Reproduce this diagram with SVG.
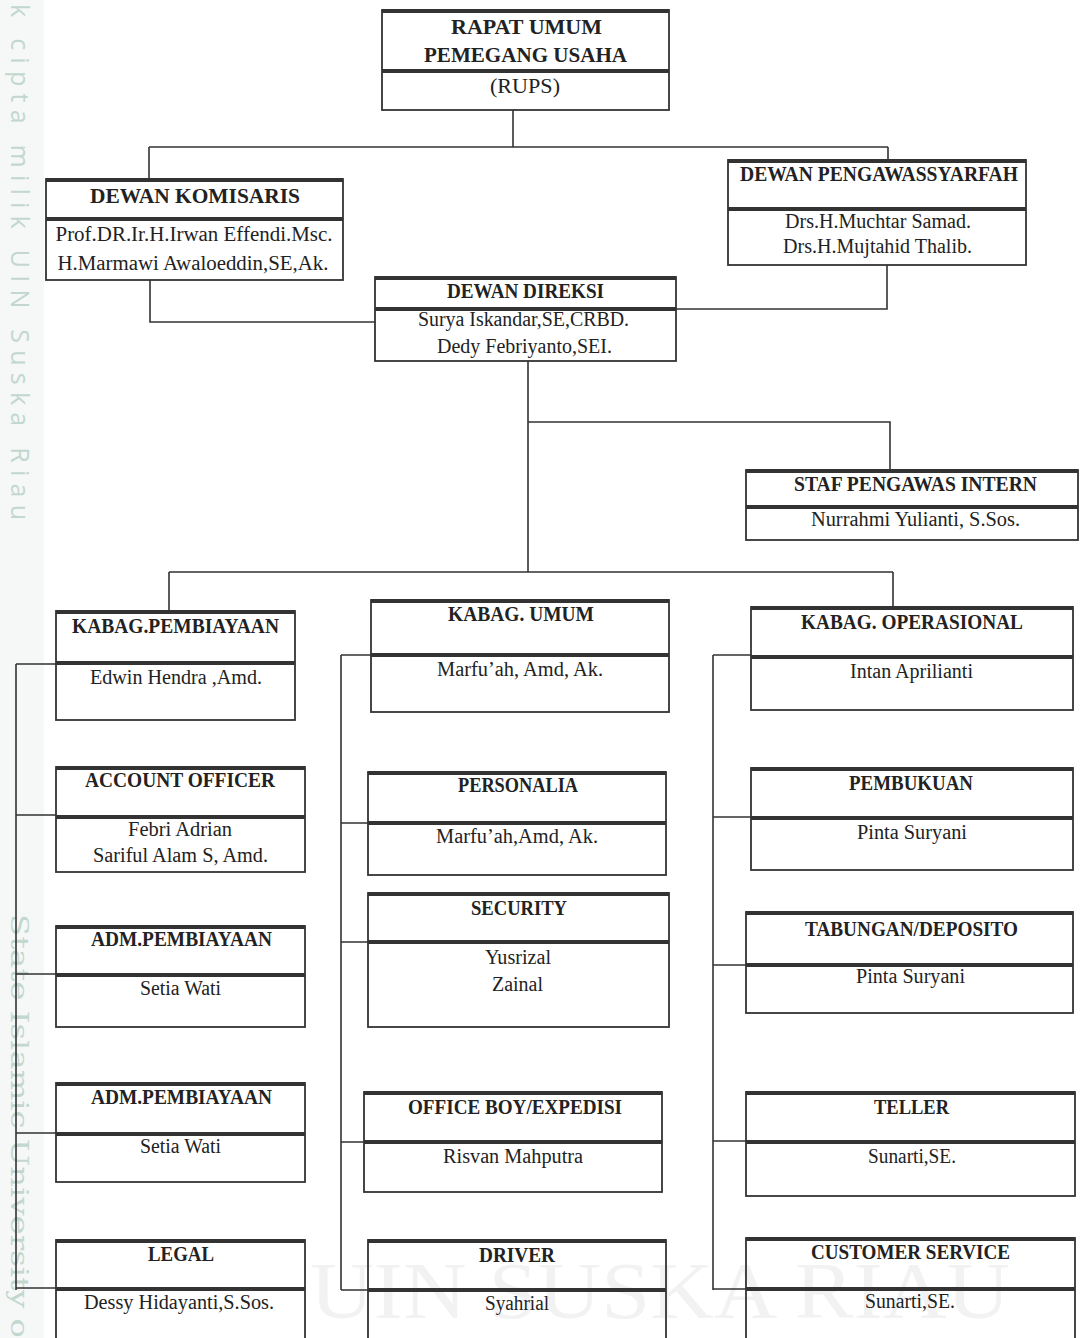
<svg xmlns="http://www.w3.org/2000/svg" width="1080" height="1338" viewBox="0 0 1080 1338">
<style>
.box{fill:none;stroke:#333;stroke-width:1.8}
.bar{stroke:#333;stroke-width:4}
.t{font-family:"Liberation Serif","Times New Roman",serif;font-weight:bold;font-size:22px;text-anchor:middle;fill:#222}
.n{font-family:"Liberation Serif","Times New Roman",serif;font-size:20px;text-anchor:middle;fill:#222}
.c{fill:none;stroke:#333;stroke-width:1.6}
.wm{fill:#c2d8ce}
</style>
<rect width="1080" height="1338" fill="#fff"/>
<g id="watermark">
<rect x="0" y="0" width="44" height="1338" fill="#f6f7f7"/>
<text class="wm" transform="translate(11,4) rotate(90)" font-family="'Open Sans','Noto Sans',sans-serif" font-size="25" textLength="516" lengthAdjust="spacing">k cipta milik UIN Suska Riau</text>
<text class="wm" transform="translate(11,914) rotate(90)" font-family="'DejaVu Serif',serif" font-size="25" textLength="424" lengthAdjust="spacingAndGlyphs">State Islamic University o</text>
<text x="660" y="1318" font-family="'Liberation Serif',serif" font-size="80" text-anchor="middle" fill="#f2f2f2" textLength="700" lengthAdjust="spacingAndGlyphs">UIN SUSKA RIAU</text>
</g>
<g id="connectors">
<path class="c" d="M513 110V147M149 147H888M149 147V179M888 147V160"/>
<path class="c" d="M150 280V322H375"/>
<path class="c" d="M887 265V309H676"/>
<path class="c" d="M528 361V572M528 422H890V470"/>
<path class="c" d="M169 572H893M169 572V611M893 572V607"/>
<path class="c" d="M16 664V1290M16 664H56M16 815H56M16 974H56M16 1133H56M16 1288H56"/>
<path class="c" d="M341 655V1290M341 655H371M341 823H368M341 942H368M341 1142H364M341 1290H368"/>
<path class="c" d="M713 655V1290M713 655H751M713 817H751M713 965H746M713 1141H746M713 1289H746"/>
</g>
<g id="rups">
<rect class="box" x="382" y="10" width="287" height="100"/>
<path class="bar" d="M382 11H669M382 71H669"/>
<text class="t" x="526.5" y="34" textLength="151" lengthAdjust="spacingAndGlyphs">RAPAT UMUM</text>
<text class="t" x="525.5" y="62" textLength="203" lengthAdjust="spacingAndGlyphs">PEMEGANG USAHA</text>
<text class="n" x="525" y="93" textLength="70" lengthAdjust="spacingAndGlyphs">(RUPS)</text>
</g>
<g id="dewan-komisaris">
<rect class="box" x="46" y="179" width="297" height="101"/>
<path class="bar" d="M46 180H343M46 219H343"/>
<text class="t" x="195" y="203" textLength="210" lengthAdjust="spacingAndGlyphs">DEWAN KOMISARIS</text>
<text class="n" x="194" y="241" textLength="277" lengthAdjust="spacingAndGlyphs">Prof.DR.Ir.H.Irwan Effendi.Msc.</text>
<text class="n" x="193" y="270" textLength="271" lengthAdjust="spacingAndGlyphs">H.Marmawi Awaloeddin,SE,Ak.</text>
</g>
<g id="dewan-pengawas-syariah">
<rect class="box" x="728" y="160" width="298" height="105"/>
<path class="bar" d="M728 161H1026M728 209H1026"/>
<text class="t" x="879" y="181" textLength="278" lengthAdjust="spacingAndGlyphs">DEWAN PENGAWASSYARFAH</text>
<text class="n" x="878" y="228" textLength="186" lengthAdjust="spacingAndGlyphs">Drs.H.Muchtar Samad.</text>
<text class="n" x="877.5" y="253" textLength="189" lengthAdjust="spacingAndGlyphs">Drs.H.Mujtahid Thalib.</text>
</g>
<g id="dewan-direksi">
<rect class="box" x="375" y="277" width="301" height="84"/>
<path class="bar" d="M375 278H676M375 309H676"/>
<text class="t" x="525.5" y="298" textLength="157" lengthAdjust="spacingAndGlyphs">DEWAN DIREKSI</text>
<text class="n" x="523.5" y="326" textLength="211" lengthAdjust="spacingAndGlyphs">Surya Iskandar,SE,CRBD.</text>
<text class="n" x="524.5" y="353" textLength="175" lengthAdjust="spacingAndGlyphs">Dedy Febriyanto,SEI.</text>
</g>
<g id="staf-pengawas-intern">
<rect class="box" x="746" y="470" width="332" height="70"/>
<path class="bar" d="M746 471H1078M746 507H1078"/>
<text class="t" x="915.5" y="491" textLength="243" lengthAdjust="spacingAndGlyphs">STAF PENGAWAS INTERN</text>
<text class="n" x="915.5" y="526" textLength="209" lengthAdjust="spacingAndGlyphs">Nurrahmi Yulianti, S.Sos.</text>
</g>
<g id="kabag-pembiayaan">
<rect class="box" x="56" y="611" width="239" height="109"/>
<path class="bar" d="M56 612H295M56 663H295"/>
<text class="t" x="175.5" y="633" textLength="207" lengthAdjust="spacingAndGlyphs">KABAG.PEMBIAYAAN</text>
<text class="n" x="176" y="684" textLength="172" lengthAdjust="spacingAndGlyphs">Edwin Hendra ,Amd.</text>
</g>
<g id="account-officer">
<rect class="box" x="56" y="767" width="249" height="105"/>
<path class="bar" d="M56 768H305M56 817H305"/>
<text class="t" x="180" y="787" textLength="190" lengthAdjust="spacingAndGlyphs">ACCOUNT OFFICER</text>
<text class="n" x="180" y="836" textLength="104" lengthAdjust="spacingAndGlyphs">Febri Adrian</text>
<text class="n" x="180.5" y="862" textLength="175" lengthAdjust="spacingAndGlyphs">Sariful Alam S, Amd.</text>
</g>
<g id="adm-pembiayaan-1">
<rect class="box" x="56" y="926" width="249" height="101"/>
<path class="bar" d="M56 927H305M56 975H305"/>
<text class="t" x="181.5" y="946" textLength="181" lengthAdjust="spacingAndGlyphs">ADM.PEMBIAYAAN</text>
<text class="n" x="180.5" y="995" textLength="81" lengthAdjust="spacingAndGlyphs">Setia Wati</text>
</g>
<g id="adm-pembiayaan-2">
<rect class="box" x="56" y="1083" width="249" height="99"/>
<path class="bar" d="M56 1084H305M56 1134H305"/>
<text class="t" x="181.5" y="1104" textLength="181" lengthAdjust="spacingAndGlyphs">ADM.PEMBIAYAAN</text>
<text class="n" x="180.5" y="1153" textLength="81" lengthAdjust="spacingAndGlyphs">Setia Wati</text>
</g>
<g id="legal">
<rect class="box" x="56" y="1240" width="249" height="110"/>
<path class="bar" d="M56 1241H305M56 1289H305"/>
<text class="t" x="181" y="1261" textLength="66" lengthAdjust="spacingAndGlyphs">LEGAL</text>
<text class="n" x="179" y="1309" textLength="190" lengthAdjust="spacingAndGlyphs">Dessy Hidayanti,S.Sos.</text>
</g>
<g id="kabag-umum">
<rect class="box" x="371" y="600" width="298" height="112"/>
<path class="bar" d="M371 601H669M371 655H669"/>
<text class="t" x="521" y="621" textLength="146" lengthAdjust="spacingAndGlyphs">KABAG. UMUM</text>
<text class="n" x="520" y="676" textLength="166" lengthAdjust="spacingAndGlyphs">Marfu’ah, Amd, Ak.</text>
</g>
<g id="personalia">
<rect class="box" x="368" y="772" width="298" height="103"/>
<path class="bar" d="M368 773H666M368 823H666"/>
<text class="t" x="518" y="792" textLength="120" lengthAdjust="spacingAndGlyphs">PERSONALIA</text>
<text class="n" x="517" y="843" textLength="162" lengthAdjust="spacingAndGlyphs">Marfu’ah,Amd, Ak.</text>
</g>
<g id="security">
<rect class="box" x="368" y="893" width="301" height="134"/>
<path class="bar" d="M368 894H669M368 942H669"/>
<text class="t" x="519" y="915" textLength="96" lengthAdjust="spacingAndGlyphs">SECURITY</text>
<text class="n" x="518" y="964" textLength="66" lengthAdjust="spacingAndGlyphs">Yusrizal</text>
<text class="n" x="517.5" y="991" textLength="51" lengthAdjust="spacingAndGlyphs">Zainal</text>
</g>
<g id="office-boy">
<rect class="box" x="364" y="1092" width="298" height="100"/>
<path class="bar" d="M364 1093H662M364 1142H662"/>
<text class="t" x="515" y="1114" textLength="214" lengthAdjust="spacingAndGlyphs">OFFICE BOY/EXPEDISI</text>
<text class="n" x="513" y="1163" textLength="140" lengthAdjust="spacingAndGlyphs">Risvan Mahputra</text>
</g>
<g id="driver">
<rect class="box" x="368" y="1240" width="298" height="110"/>
<path class="bar" d="M368 1241H666M368 1290H666"/>
<text class="t" x="517" y="1262" textLength="76" lengthAdjust="spacingAndGlyphs">DRIVER</text>
<text class="n" x="517" y="1310" textLength="64" lengthAdjust="spacingAndGlyphs">Syahrial</text>
</g>
<g id="kabag-operasional">
<rect class="box" x="751" y="607" width="322" height="103"/>
<path class="bar" d="M751 608H1073M751 657H1073"/>
<text class="t" x="912" y="629" textLength="222" lengthAdjust="spacingAndGlyphs">KABAG. OPERASIONAL</text>
<text class="n" x="911.5" y="678" textLength="123" lengthAdjust="spacingAndGlyphs">Intan Aprilianti</text>
</g>
<g id="pembukuan">
<rect class="box" x="751" y="768" width="322" height="102"/>
<path class="bar" d="M751 769H1073M751 818H1073"/>
<text class="t" x="911" y="790" textLength="124" lengthAdjust="spacingAndGlyphs">PEMBUKUAN</text>
<text class="n" x="912" y="839" textLength="110" lengthAdjust="spacingAndGlyphs">Pinta Suryani</text>
</g>
<g id="tabungan-deposito">
<rect class="box" x="746" y="912" width="327" height="101"/>
<path class="bar" d="M746 913H1073M746 965H1073"/>
<text class="t" x="911.5" y="936" textLength="213" lengthAdjust="spacingAndGlyphs">TABUNGAN/DEPOSITO</text>
<text class="n" x="910.5" y="983" textLength="109" lengthAdjust="spacingAndGlyphs">Pinta Suryani</text>
</g>
<g id="teller">
<rect class="box" x="746" y="1092" width="329" height="104"/>
<path class="bar" d="M746 1093H1075M746 1142H1075"/>
<text class="t" x="911.5" y="1114" textLength="75" lengthAdjust="spacingAndGlyphs">TELLER</text>
<text class="n" x="912" y="1163" textLength="88" lengthAdjust="spacingAndGlyphs">Sunarti,SE.</text>
</g>
<g id="customer-service">
<rect class="box" x="746" y="1238" width="329" height="112"/>
<path class="bar" d="M746 1239H1075M746 1289H1075"/>
<text class="t" x="910.5" y="1259" textLength="199" lengthAdjust="spacingAndGlyphs">CUSTOMER SERVICE</text>
<text class="n" x="910" y="1308" textLength="90" lengthAdjust="spacingAndGlyphs">Sunarti,SE.</text>
</g>
</svg>
